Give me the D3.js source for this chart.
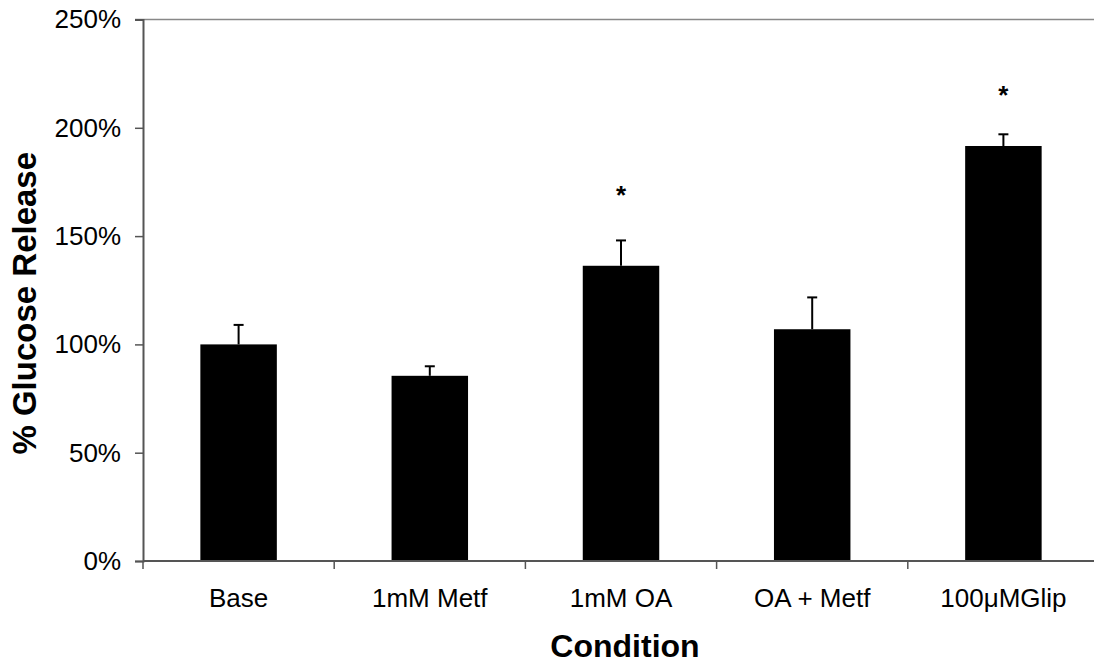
<!DOCTYPE html>
<html>
<head>
<meta charset="utf-8">
<script src="https://cdn.jsdelivr.net/npm/d3@7"></script>
<style>
  body { margin: 0; background: #fff; }
  svg { display: block; font-family: Arial, "Liberation Sans", sans-serif; }
</style>
</head>
<body>
<div class="chart"></div>
<script>
const categories = ['Base', '1mM Metf', '1mM OA', 'OA + Metf', '100\u03BCMGlip'];
const values = [1.00, 0.855, 1.363, 1.07, 1.916];
const errors = [0.09, 0.044, 0.117, 0.147, 0.054];
// level of the significance star (null = none)
const stars = [null, null, 1.70, null, 2.16];
const yTicks = [0, 0.5, 1, 1.5, 2, 2.5];

function drawChart() {
  const w = 1094;
  const h = 665;
  const margin = { top: 19.5, right: -5, bottom: 104, left: 143 };

  const svg = d3.select('.chart')
    .append('svg')
    .attr('width', w)
    .attr('height', h);

  const x = d3.scaleBand()
    .domain(categories)
    .range([margin.left, w - margin.right])
    .paddingInner(0.6)
    .paddingOuter(0.3);

  const y = d3.scaleLinear()
    .domain([0, 2.5])
    .range([h - margin.bottom, margin.top]);

  const data = categories.map((c, i) => ({
    name: c, value: values[i], err: errors[i], star: stars[i]
  }));

  // top border line
  svg.append('line')
    .attr('x1', margin.left - 8)
    .attr('x2', w)
    .attr('y1', y(2.5))
    .attr('y2', y(2.5))
    .attr('stroke', '#888')
    .attr('stroke-width', 1.5);

  // bars
  svg.append('g')
    .selectAll('rect')
    .data(data)
    .enter()
    .append('rect')
    .attr('x', d => x(d.name))
    .attr('y', d => y(d.value))
    .attr('width', x.bandwidth())
    .attr('height', d => y(0) - y(d.value))
    .attr('fill', '#000');

  // error bars (upper only)
  const err = svg.append('g')
    .selectAll('g')
    .data(data)
    .enter()
    .append('g')
    .attr('stroke', '#000')
    .attr('stroke-width', 2);

  err.append('line')
    .attr('x1', d => x(d.name) + x.bandwidth() / 2)
    .attr('x2', d => x(d.name) + x.bandwidth() / 2)
    .attr('y1', d => y(d.value))
    .attr('y2', d => y(d.value + d.err));

  err.append('line')
    .attr('x1', d => x(d.name) + x.bandwidth() / 2 - 5)
    .attr('x2', d => x(d.name) + x.bandwidth() / 2 + 5)
    .attr('y1', d => y(d.value + d.err))
    .attr('y2', d => y(d.value + d.err));

  // significance stars (glyph centre sits ~11px above baseline)
  svg.append('g')
    .selectAll('text')
    .data(data.filter(d => d.star != null))
    .enter()
    .append('text')
    .attr('x', d => x(d.name) + x.bandwidth() / 2)
    .attr('y', d => y(d.star) + 11)
    .attr('text-anchor', 'middle')
    .attr('font-size', 26)
    .attr('font-weight', 'bold')
    .text('*');

  // y axis
  const yAxis = svg.append('g')
    .attr('transform', `translate(${margin.left}, 0)`)
    .call(d3.axisLeft(y).tickValues(yTicks).tickFormat(d3.format('.0%')).tickSizeOuter(0).tickSize(8).tickPadding(14));
  yAxis.select('.domain').attr('stroke', '#555').attr('stroke-width', 2);
  yAxis.selectAll('.tick line').attr('stroke', '#555').attr('stroke-width', 1.5);
  yAxis.selectAll('.tick text')
    .attr('font-size', 26)
    .attr('font-family', 'Arial, "Liberation Sans", sans-serif')
    .attr('fill', '#000');

  // x axis: ticks on category boundaries
  const xAxis = svg.append('g')
    .attr('transform', `translate(0, ${y(0)})`);
  xAxis.append('line')
    .attr('x1', margin.left)
    .attr('x2', w)
    .attr('stroke', '#555')
    .attr('stroke-width', 2);
  const step = x.step();
  const bounds = d3.range(categories.length + 1).map(i => x.range()[0] + i * step);
  xAxis.selectAll('.bound')
    .data(bounds)
    .enter()
    .append('line')
    .attr('x1', d => d)
    .attr('x2', d => d)
    .attr('y1', 0)
    .attr('y2', 8)
    .attr('stroke', '#555')
    .attr('stroke-width', 1.5);
  xAxis.selectAll('.lbl')
    .data(categories)
    .enter()
    .append('text')
    .attr('x', d => x(d) + x.bandwidth() / 2)
    .attr('y', 46)
    .attr('text-anchor', 'middle')
    .attr('font-size', 26)
    .text(d => d);

  // axis titles
  svg.append('text')
    .attr('x', (margin.left + w - margin.right) / 2 + 4)
    .attr('y', 657)
    .attr('text-anchor', 'middle')
    .attr('font-size', 32)
    .attr('font-weight', 'bold')
    .text('Condition');

  svg.append('text')
    .attr('transform', `translate(36, ${(y(0) + y(2.5)) / 2 + 13}) rotate(-90)`)
    .attr('text-anchor', 'middle')
    .attr('font-size', 33)
    .attr('font-weight', 'bold')
    .text('% Glucose Release');
}

drawChart();
</script>
</body>
</html>
